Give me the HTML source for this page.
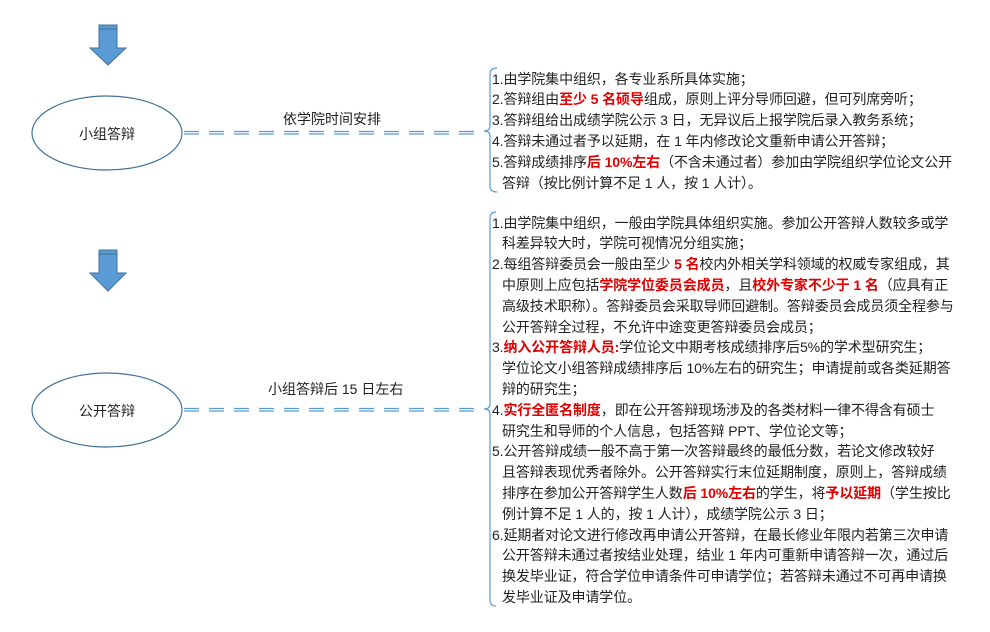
<!DOCTYPE html>
<html><head><meta charset="utf-8"><style>
body{margin:0;width:990px;height:632px;background:#fff;position:relative;overflow:hidden;font-family:"Liberation Sans","Noto Sans CJK SC",sans-serif;color:#222}
.blk{position:absolute;left:492px;font-size:14px;line-height:20.8px;white-space:nowrap;letter-spacing:-0.1px}
.i{padding-left:10px}
.r{color:#e00000;font-weight:bold}
.lbl{position:absolute;font-size:14px;color:#222;white-space:nowrap}
</style></head><body>
<svg width="990" height="632" style="position:absolute;left:0;top:0">
<g fill="#5b9bd5" stroke="#41719c" stroke-width="1">
<path d="M99 25 H117 V48 H126 L108 65 L90 48 H99 Z"/>
<path d="M99 250 H117 V273 H126 L108 291 L90 273 H99 Z"/>
</g>
<line x1="99" y1="29" x2="117" y2="29" stroke="#41719c"/>
<line x1="99" y1="254" x2="117" y2="254" stroke="#41719c"/>
<ellipse cx="107" cy="133" rx="75" ry="37" fill="#fff" stroke="#41719c" stroke-width="1.2"/>
<ellipse cx="107" cy="410" rx="75" ry="37" fill="#fff" stroke="#41719c" stroke-width="1.2"/>
<g stroke="#5b9bd5" stroke-width="1.3" stroke-dasharray="15 10">
<line x1="184" y1="131.5" x2="482" y2="131.5"/><line x1="184" y1="134" x2="482" y2="134"/>
<line x1="184" y1="408.5" x2="482" y2="408.5"/><line x1="184" y1="411" x2="482" y2="411"/>
</g>
<g fill="none" stroke="#5b9bd5" stroke-width="1.2">
<path d="M497 68 Q490 68 490 74 V126 Q490 131 484 131 Q490 131 490 136 V186 Q490 192 497 192"/>
<path d="M496 212 Q490 212 490 218 V404 Q490 409 484 409 Q490 409 490 414 V600 Q490 606 496 606"/>
</g>
</svg>
<div class="lbl" style="left:107px;top:124px;transform:translateX(-50%)">小组答辩</div>
<div class="lbl" style="left:107px;top:401px;transform:translateX(-50%)">公开答辩</div>
<div class="lbl" style="left:283px;top:109px">依学院时间安排</div>
<div class="lbl" style="left:268px;top:379px">小组答辩后 15 日左右</div>
<div class="blk" style="top:68.6px">
1.由学院集中组织，各专业系所具体实施；<br>
2.答辩组由<span class="r">至少 5 名硕导</span>组成，原则上评分导师回避，但可列席旁听；<br>
3.答辩组给出成绩学院公示 3 日，无异议后上报学院后录入教务系统；<br>
4.答辩未通过者予以延期，在 1 年内修改论文重新申请公开答辩；<br>
5.答辩成绩排序<span class="r">后 10%左右</span>（不含未通过者）参加由学院组织学位论文公开<br>
<span class="i">答辩（按比例计算不足 1 人，按 1 人计）。</span>
</div>
<div class="blk" style="top:212.6px">
1.由学院集中组织，一般由学院具体组织实施。参加公开答辩人数较多或学<br>
<span class="i">科差异较大时，学院可视情况分组实施；</span><br>
2.每组答辩委员会一般由至少 <span class="r">5 名</span>校内外相关学科领域的权威专家组成，其<br>
<span class="i">中原则上应包括<span class="r">学院学位委员会成员</span>，且<span class="r">校外专家不少于 1 名</span>（应具有正</span><br>
<span class="i">高级技术职称）。答辩委员会采取导师回避制。答辩委员会成员须全程参与</span><br>
<span class="i">公开答辩全过程，不允许中途变更答辩委员会成员；</span><br>
3.<span class="r">纳入公开答辩人员:</span>学位论文中期考核成绩排序后5%的学术型研究生；<br>
<span class="i">学位论文小组答辩成绩排序后 10%左右的研究生；申请提前或各类延期答</span><br>
<span class="i">辩的研究生；</span><br>
4.<span class="r">实行全匿名制度</span>，即在公开答辩现场涉及的各类材料一律不得含有硕士<br>
<span class="i">研究生和导师的个人信息，包括答辩 PPT、学位论文等；</span><br>
5.公开答辩成绩一般不高于第一次答辩最终的最低分数，若论文修改较好<br>
<span class="i">且答辩表现优秀者除外。公开答辩实行末位延期制度，原则上，答辩成绩</span><br>
<span class="i">排序在参加公开答辩学生人数<span class="r">后 10%左右</span>的学生，将<span class="r">予以延期</span>（学生按比</span><br>
<span class="i">例计算不足 1 人的，按 1 人计），成绩学院公示 3 日；</span><br>
6.延期者对论文进行修改再申请公开答辩，在最长修业年限内若第三次申请<br>
<span class="i">公开答辩未通过者按结业处理，结业 1 年内可重新申请答辩一次，通过后</span><br>
<span class="i">换发毕业证，符合学位申请条件可申请学位；若答辩未通过不可再申请换</span><br>
<span class="i">发毕业证及申请学位。</span>
</div>
</body></html>
